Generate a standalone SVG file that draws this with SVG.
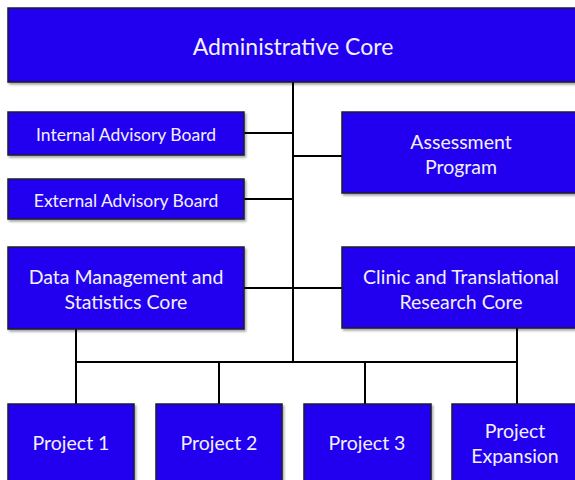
<svg xmlns="http://www.w3.org/2000/svg" width="575" height="480" viewBox="0 0 575 480">
  <defs>
    <filter id="shadow" x="-10%" y="-10%" width="130%" height="140%">
      <feDropShadow dx="1.5" dy="2" stdDeviation="1.2" flood-color="#000" flood-opacity="0.35"/>
    </filter>
  </defs>
  <style>
    .box { fill: #2300EF; stroke: #1a1a2e; stroke-width: 1.5; filter: url(#shadow); }
    .lbl { fill: #F2F0FF; font-family: Lato, "Open Sans", sans-serif; text-anchor: middle; dominant-baseline: central; }
    .big { font-size: 23px; }
    .mid { font-size: 19.5px; }
    .sm { font-size: 17.5px; }
    .conn { stroke: #000; stroke-width: 2; fill: none; }
  </style>

  <g id="connectors">
    <path class="conn" d="M293 82 V362"/>
    <path class="conn" d="M244 133 H293"/>
    <path class="conn" d="M244 199 H293"/>
    <path class="conn" d="M293 156 H342"/>
    <path class="conn" d="M244 288 H342"/>
    <path class="conn" d="M76 329 V404"/>
    <path class="conn" d="M517 328 V404"/>
    <path class="conn" d="M76 362 H517"/>
    <path class="conn" d="M219 362 V404"/>
    <path class="conn" d="M365 362 V404"/>
  </g>

  <g id="administrative-core">
    <rect class="box" x="8" y="8" width="580" height="74"/>
    <text class="lbl big" x="293" y="46">Administrative Core</text>
  </g>
  <g id="internal-advisory-board">
    <rect class="box" x="8" y="112" width="236" height="43"/>
    <text class="lbl sm" x="126" y="134">Internal Advisory Board</text>
  </g>
  <g id="external-advisory-board">
    <rect class="box" x="8" y="179" width="236" height="40"/>
    <text class="lbl sm" x="126" y="200">External Advisory Board</text>
  </g>
  <g id="assessment-program">
    <rect class="box" x="342" y="112" width="246" height="81"/>
    <text class="lbl mid" x="461" y="141">Assessment</text>
    <text class="lbl mid" x="461" y="166">Program</text>
  </g>
  <g id="data-management">
    <rect class="box" x="8" y="247" width="236" height="82"/>
    <text class="lbl mid" x="126" y="276">Data Management and</text>
    <text class="lbl mid" x="126" y="301">Statistics Core</text>
  </g>
  <g id="clinic-translational">
    <rect class="box" x="342" y="247" width="246" height="81"/>
    <text class="lbl mid" x="461" y="276">Clinic and Translational</text>
    <text class="lbl mid" x="461" y="301">Research Core</text>
  </g>
  <g id="project-1">
    <rect class="box" x="8" y="404" width="126" height="90"/>
    <text class="lbl mid" x="71" y="442">Project 1</text>
  </g>
  <g id="project-2">
    <rect class="box" x="156" y="404" width="126" height="90"/>
    <text class="lbl mid" x="219" y="442">Project 2</text>
  </g>
  <g id="project-3">
    <rect class="box" x="304" y="404" width="127" height="90"/>
    <text class="lbl mid" x="367" y="442">Project 3</text>
  </g>
  <g id="project-expansion">
    <rect class="box" x="452" y="404" width="136" height="90"/>
    <text class="lbl mid" x="515" y="430">Project</text>
    <text class="lbl mid" x="515" y="455">Expansion</text>
  </g>
</svg>
